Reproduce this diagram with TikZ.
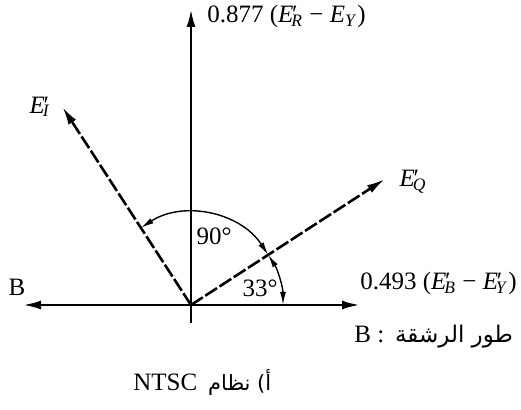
\documentclass[tikz,border=0pt]{standalone}
\usepackage{fontspec}
\setmainfont{Liberation Serif}
\newfontfamily\arabicfont[Script=Arabic]{DejaVu Sans}
\TeXXeTstate=1
\usetikzlibrary{arrows.meta,calc}
\newcommand\Eprime[1]{\textit{E}\kern-0.05em′\kern-0.25em\textsubscript{\textit{#1}}}
\newcommand\Eplain[1]{\textit{E}\textsubscript{\textit{#1}}}
\begin{document}
\begin{tikzpicture}[x=0.5pt,y=0.5pt,
  axis/.style={line width=1.3pt,-{Latex[length=9pt,width=4.5pt]}},
  vec/.style={line width=1.3pt,dash pattern=on 7pt off 1.5pt,-{Latex[length=9pt,width=4.5pt]}},
  anglearc/.style={line width=0.7pt,{Latex[length=6.5pt,width=3pt]}-{Latex[length=6.5pt,width=3pt]}},
  lbl/.style={font=\fontsize{12.5}{14}\selectfont, inner sep=0pt},
  arlbl/.style={font=\fontsize{11.5}{13}\arabicfont, inner sep=0pt}]
\useasboundingbox (0,0) rectangle (521,410);
\coordinate (O) at (191,105);
\coordinate (T) at (191,401);
\coordinate (L) at (23,105);
\coordinate (R) at (360,105);
\coordinate (tick) at (191,87);
\coordinate (EI) at ($(O)+(123:236)$);
\coordinate (EQ) at ($(O)+(33:231)$);
% axes
\draw[axis] (O) -- (T);
\draw[axis] (O) -- (L);
\draw[axis] (O) -- (R);
\draw[line width=1pt] (O) -- (tick);
% vectors
\draw[vec] (O) -- (EI);
\draw[vec] (O) -- (EQ);
% angle arcs
\draw[anglearc] ($(O)+(123:92)$) arc[start angle=123,end angle=33,radius=92];
\draw[anglearc] ($(O)+(33:92)$) arc[start angle=33,end angle=0,radius=92];
% labels
\node[lbl,anchor=west] (ly) at (207,393) {0.877 (\Eprime{R} − \Eplain{Y})};
\node[lbl] (lei) at (40,303) {\Eprime{I}};
\node[lbl] (leq) at (413,228) {\Eprime{Q}};
\node[lbl] (lb) at (17,123) {B};
\node[lbl] (l90) at (214,174) {90°};
\node[lbl] (l33) at (260,122) {33°};
\node[lbl,anchor=west] (lx) at (360,126) {0.493 (\Eprime{B} − \Eprime{Y})};
\node[lbl,anchor=base west] (lburstB) at (354,67) {B :};
\node[arlbl,anchor=base west] (lburst) at ([xshift=5]lburstB.base east) {\beginR طور الرشقة\endR};
\node[lbl,anchor=base west] (capL) at (133,19) {NTSC};
\node[arlbl,anchor=base west,font=\fontsize{10.5}{12}\arabicfont] (cap) at ([xshift=5]capL.base east) {\beginR أ) نظام\endR};
\end{tikzpicture}
\end{document}
